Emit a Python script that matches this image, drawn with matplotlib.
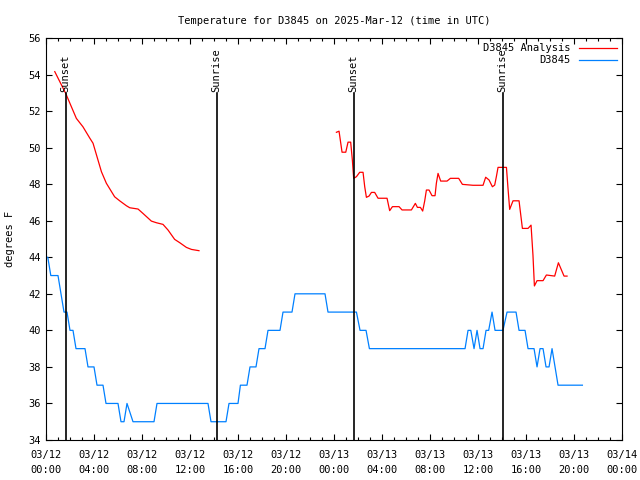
import matplotlib
matplotlib.use("Agg")
import matplotlib.pyplot as plt
import matplotlib.dates as mdates
import numpy as np
from datetime import datetime, timedelta

base = datetime(2025, 3, 12)

# analysis series: hours since 03/12 00:00 UTC, temperature (F); nan = gap
analysis_hours = [0.73, 1.64, 2.53, 3.08, 3.64, 3.92, 4.62, 5.03, 5.72, 6.14, 6.70, 6.98,
                  7.67, 8.08, 8.78, 9.20, 9.75, 10.17, 10.72, 11.14, 11.70, 12.12, 12.75,
                  18.0,
                  24.20, 24.42, 24.67, 24.98, 25.17, 25.39, 25.53, 25.64, 25.87, 26.14, 26.42,
                  26.56, 26.70, 26.92, 27.12, 27.39, 27.67, 28.42, 28.64, 28.87, 29.42, 29.67,
                  30.45, 30.78, 30.95, 31.20, 31.39, 31.56, 31.70, 31.92, 32.17, 32.42, 32.53,
                  32.67, 32.89, 33.42, 33.70, 34.39, 34.70, 35.58, 36.42, 36.64, 36.92, 37.20,
                  37.39, 37.53, 37.67, 38.37, 38.50, 38.64, 38.78, 38.92, 39.42, 39.70, 40.17,
                  40.42, 40.58, 40.70, 40.92, 41.42, 41.70, 42.39, 42.70, 43.17, 43.42]
analysis_temp = [54.16, 52.97, 51.60, 51.14, 50.53, 50.24, 48.68, 48.05, 47.31, 47.09, 46.82, 46.71,
                 46.64, 46.40, 45.98, 45.89, 45.80, 45.49, 44.98, 44.80, 44.54, 44.43, 44.36,
                 np.nan,
                 50.84, 50.90, 49.75, 49.75, 50.30, 50.30, 49.32, 48.32, 48.41, 48.65, 48.65,
                 47.86, 47.28, 47.35, 47.55, 47.55, 47.23, 47.23, 46.55, 46.77, 46.77, 46.59,
                 46.59, 46.95, 46.73, 46.73, 46.53, 47.09, 47.68, 47.68, 47.37, 47.37, 48.05,
                 48.59, 48.17, 48.17, 48.32, 48.32, 47.99, 47.94, 47.94, 48.38, 48.23, 47.86,
                 47.95, 48.41, 48.92, 48.92, 47.77, 46.62, 46.86, 47.09, 47.09, 45.58, 45.58,
                 45.76, 44.12, 42.43, 42.72, 42.72, 43.03, 42.97, 43.70, 42.97, 42.97]

# station observations
obs_hours = [0.0, 0.15, 0.4, 1.0, 1.5, 1.75, 2.0, 2.25, 2.5, 3.25, 3.5, 4.0, 4.25, 4.75, 5.0,
             6.0, 6.25, 6.5, 6.75, 7.25, 9.0, 9.25, 13.5, 13.75, 15.0, 15.25, 16.0, 16.2,
             16.75, 17.0, 17.5, 17.75, 18.25, 18.5, 19.5, 19.75, 20.5, 20.75, 23.25, 23.5,
             25.87, 26.17, 26.67, 26.95, 34.92, 35.17, 35.4, 35.67, 35.92, 36.17, 36.42,
             36.67, 36.89, 37.17, 37.42, 38.08, 38.42, 39.17, 39.42, 39.92, 40.17, 40.67,
             40.92, 41.17, 41.42, 41.67, 41.92, 42.17, 42.42, 42.67, 44.7]
obs_temp = [44, 44, 43, 43, 41, 41, 40, 40, 39, 39, 38, 38, 37, 37, 36,
            36, 35, 35, 36, 35, 35, 36, 36, 35, 35, 36, 36, 37,
            37, 38, 38, 39, 39, 40, 40, 41, 41, 42, 42, 41,
            41, 40, 40, 39, 39, 40, 40, 39, 40, 39, 39,
            40, 40, 41, 40, 40, 41, 41, 40, 40, 39, 39,
            38, 39, 39, 38, 38, 39, 38, 37, 37]

sun_hours = [1.64, 14.22, 25.64, 38.06]
sun_labels = ["Sunset", "Sunrise", "Sunset", "Sunrise"]

plt.rcParams['font.family'] = ['DejaVu Sans Mono']
plt.rcParams['font.size'] = 7.5

fig = plt.figure(figsize=(6.4, 4.8), dpi=100)
ax = fig.add_axes([46 / 640, 40 / 480, 576 / 640, 402 / 480])

at = [base + timedelta(hours=h) for h in analysis_hours]
ot = [base + timedelta(hours=h) for h in obs_hours]
ax.plot(at, analysis_temp, color='#ff0000', lw=0.9, label='D3845 Analysis')
ax.plot(ot, obs_temp, color='#0080ff', lw=0.9, label='D3845')

for h, lab in zip(sun_hours, sun_labels):
    t = base + timedelta(hours=h)
    ax.plot([t, t], [34, 53], color='black', lw=1.2)
    ax.text(t, 53.05, lab, rotation=90, ha='center', va='bottom')

ax.set_xlim(base, base + timedelta(hours=48))
ax.set_ylim(34, 56)
ax.set_yticks(range(34, 57, 2))
ax.xaxis.set_major_locator(mdates.HourLocator(byhour=range(0, 24, 4)))
ax.xaxis.set_minor_locator(mdates.HourLocator())
ax.xaxis.set_major_formatter(mdates.DateFormatter('%m/%d\n%H:%M'))
ax.tick_params(which='both', direction='in', top=True, right=True)
ax.tick_params(which='major', length=4.5, width=0.8)
ax.tick_params(which='minor', length=2.5, width=0.8)
ax.tick_params(axis='x', pad=7)
for lbl in ax.get_xticklabels():
    lbl.set_linespacing(1.6)
ax.set_ylabel('degrees F', labelpad=10)
ax.set_title('Temperature for D3845 on 2025-Mar-12 (time in UTC)', pad=10, fontsize=7.5)
ax.legend(loc='upper right', frameon=False, markerfirst=False, handlelength=3.6,
          borderaxespad=0.1, labelspacing=0.2)

fig.savefig('out.png', dpi=100)
